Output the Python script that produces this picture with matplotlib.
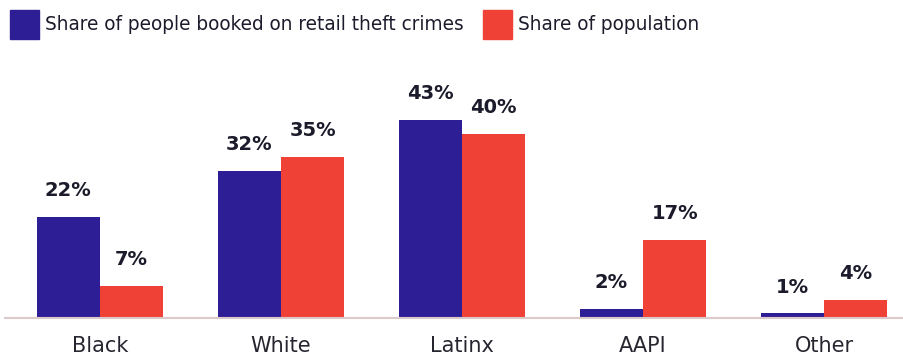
import numpy as np
import matplotlib.pyplot as plt
from matplotlib.patches import Rectangle

# groups and shares (%)
groups = ["Black", "White", "Latinx", "AAPI", "Other"]
booked = [22, 32, 43, 2, 1]
population = [7, 35, 40, 17, 4]
series_names = ["Share of people booked on retail theft crimes", "Share of population"]

blue = "#2e1e96"
red = "#ef4136"
ink = "#1b1b2b"

plt.rcParams['font.family'] = ['DejaVu Sans']

fig = plt.figure(figsize=(9.04, 3.55), dpi=100)
ax = fig.add_axes([5 / 904, 37 / 355, 899 / 904, 258 / 355])

x = np.arange(len(groups))
w = 0.35
b1 = ax.bar(x - w / 2, booked, w, color=blue)
b2 = ax.bar(x + w / 2, population, w, color=red)

for bars, vals in ((b1, booked), (b2, population)):
    for rect, v in zip(bars, vals):
        ax.annotate(f"{v}%", (rect.get_x() + rect.get_width() / 2, v),
                    xytext=(0, 12), textcoords="offset points",
                    ha="center", va="bottom", fontsize=14, fontweight="bold", color=ink)

ax.set_xlim(-0.525, 4.442)
ax.set_ylim(0, 56)
ax.set_xticks(x)
ax.set_xticklabels(groups, fontsize=15, color="#262630")
ax.tick_params(axis="x", length=0, pad=13)
ax.set_yticks([])
for s in ("top", "right", "left"):
    ax.spines[s].set_visible(False)
ax.spines["bottom"].set_color("#dccaca")
ax.spines["bottom"].set_linewidth(1.5)

# legend drawn by hand
H, W = 355, 904
for x0, color, label in ((10, blue, series_names[0]), (483, red, series_names[1])):
    fig.patches.append(Rectangle((x0 / W, 1 - 39 / H), 29 / W, 29 / H,
                                 transform=fig.transFigure, color=color))
    fig.text((x0 + 35) / W, 1 - 25 / H, label, fontsize=13.35, color=ink, va="center")

fig.savefig("out.png", dpi=100)
